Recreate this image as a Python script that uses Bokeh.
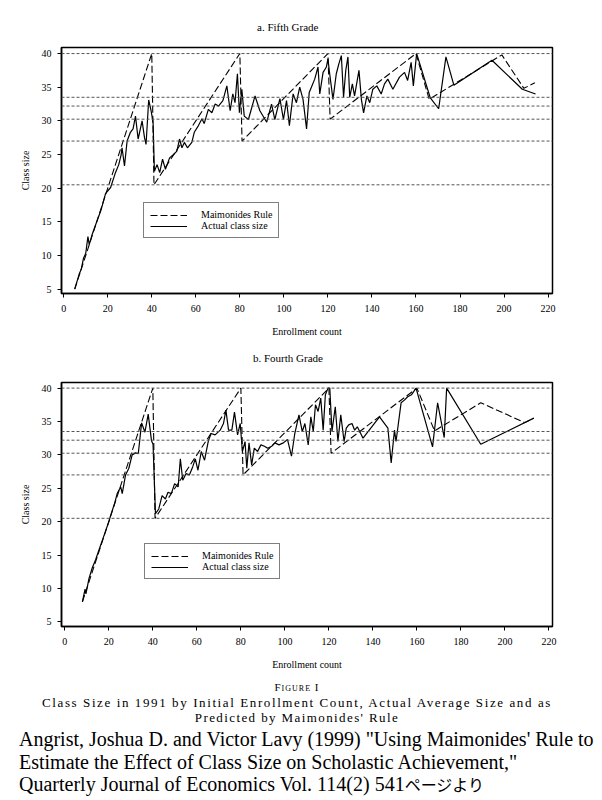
from bokeh.plotting import figure
from bokeh.models import Range1d, Span, Legend, LegendItem, Div
from bokeh.layouts import column
from bokeh.embed import file_html
from bokeh.resources import INLINE

# ---------------- data ----------------
x_ticks = [0, 20, 40, 60, 80, 100, 120, 140, 160, 180, 200, 220]
y_ticks = [5, 10, 15, 20, 25, 30, 35, 40]
ref_levels = [40, 33.5, 32.2, 30.25, 27, 20.5]

fifth_actual_x = [5, 7, 8, 9, 10, 11, 11.6, 13, 15, 17, 19, 21.3, 23.5, 25, 26.1, 26.5, 27.6, 28.8,
                  30.3, 31.5, 32.6, 33.8, 35.6, 36.7, 37.4, 38.6, 39.7, 40.6, 41.2, 42.4, 43.6, 44.9,
                  46.2, 48.1, 49.9, 51.4, 52.6, 53.7, 54.8, 56.2, 58.2, 59.3, 61.2, 62.8, 63.8, 65.7,
                  67.3, 68.8, 70.3, 72.3, 74.1, 75.6, 76.8, 77.8, 78.9, 79.8, 80.9, 82, 83.9, 86.9,
                  89.1, 92.2, 94.4, 95.9, 98.2, 99.8, 101.2, 102.5, 104.2, 105.7, 107.2, 108.7, 110.3,
                  111.5, 112.5, 114.0, 115.5, 116.3, 117.8, 119.3, 120.0, 120.8, 122.3, 123.8, 125.0,
                  126.1, 127.1, 128.1, 129.1, 129.9, 131.1, 132.1, 134.1, 135.2, 136.2, 137.7, 139.0,
                  140.4, 142.2, 144.2, 145.7, 147.2, 149.5, 152.5, 154.8, 156.2, 157.8, 158.8, 160.3,
                  166.5, 170.3, 173.6, 177.2, 194.5, 208.3, 214.3]
fifth_actual_y = [5, 7.2, 8, 9.6, 10.3, 12.8, 11.6, 13.2, 15, 16.8, 19.2, 20.1, 22.3, 23.5, 25, 26, 23.3, 27,
                  28.3, 28.8, 30.7, 27.3, 30, 27.5, 26.5, 33.1, 31.5, 29.7, 22.5, 23.5, 22.3, 24.3,
                  22.8, 24.5, 25, 25.5, 27.3, 26, 26.8, 26, 26.8, 28.3, 29.3, 30.3, 29.6, 31.7,
                  31.2, 32.5, 32.2, 33, 35.2, 31.5, 34, 32.7, 37, 31.2, 34.7, 30.7, 30.2, 33.7,
                  31.5, 29.8, 32.5, 30.2, 33.3, 30.2, 33.0, 29.3, 34.0, 32.7, 35.0, 33.2, 28.8,
                  34.2, 35.0, 36.2, 38.0, 34.0, 37.2, 38.0, 39.2, 37.0, 33.2, 37.0, 38.5,
                  39.7, 33.5, 37.5, 39.5, 33.5, 35.5, 33.7, 37.5, 33.2, 31.2, 33.7, 32.7,
                  34.7, 35.2, 34.0, 35.5, 36.2, 34.7, 36.5, 37.2, 36.0, 38.7, 35.2, 40.0,
                  33.4, 31.8, 39.5, 35.3, 39.0, 34.7, 34.0]
fifth_rule_x = [5, 40, 41, 80, 81, 120, 121, 160, 166, 199, 209, 214]
fifth_rule_y = [5, 40, 20.5, 40, 27, 40, 30.25, 40, 33.2, 39.8, 34.83, 35.67]

fourth_actual_x = [8, 9.2, 9.6, 11, 12.5, 14, 16, 18, 20.1, 20.8, 22.5, 23.8, 25.4, 26.1, 27.6, 29.1,
                   30.6, 32.1, 33.4, 34.9, 36.4, 37.9, 39.4, 40.1, 41.2, 42.7, 44.2, 45.7, 46.9, 48.4,
                   49.9, 51.5, 52.5, 53.6, 55.1, 56.6, 58.1, 59.3, 60.5, 62.0, 63.5, 65.3, 66.5, 68.3,
                   70.6, 72.1, 73.2, 74.4, 75.9, 77.1, 78.5, 79.7, 80.7, 81.9, 82.7, 83.7, 84.9, 86.1,
                   87.6, 89.1, 90.7, 92.2, 94.0, 95.5, 97.3, 99.3, 101.2, 103.0, 104.5, 106.4, 107.9,
                   109.1, 110.6, 111.8, 112.9, 113.9, 115.1, 116.3, 117.4, 118.4, 119.6, 120.4, 121.4,
                   122.9, 124.1, 125.4, 126.9, 127.9, 129.0, 130.5, 131.7, 132.9, 134.0, 135.5, 143.0,
                   146.8, 148.3, 149.8, 150.5, 152.8, 154.3, 155.8, 157.5, 159.6, 167.1, 169.4, 172.4,
                   173.5, 189.0, 213.1]
fourth_actual_y = [8, 9.9, 9.2, 11.5, 13.1, 14.3, 16.2, 18.1, 20.1, 20.9, 22.6, 24.2, 25.2, 24.2, 27.0, 28.0,
                   30.0, 30.3, 30.2, 34.8, 33.4, 36.1, 32.1, 31.6, 21.2, 21.9, 23.9, 23.4, 24.4, 24.2,
                   25.7, 25.2, 29.4, 26.2, 27.2, 27.0, 28.2, 29.4, 27.7, 30.5, 29.2, 32.2, 33.2, 33.0,
                   33.7, 34.7, 36.7, 33.7, 33.7, 36.4, 33.0, 34.7, 30.5, 32.0, 28.0, 31.8, 28.5, 31.0,
                   30.5, 31.5, 31.3, 31.0, 31.3, 31.8, 31.5, 31.8, 32.3, 29.8, 33.2, 36.0, 33.5,
                   34.7, 31.5, 35.7, 33.5, 37.5, 36.5, 38.5, 33.7, 39.0, 40.0, 40.0, 33.5,
                   37.2, 32.0, 36.0, 32.0, 34.0, 34.5, 34.7, 33.7, 34.2, 33.5, 32.5, 35.7,
                   34.0, 28.8, 33.7, 32.0, 37.8, 38.2, 38.7, 39.0, 40.0, 31.2, 37.8, 32.6,
                   40.0, 31.6, 35.5]
fourth_rule_x = [8, 40, 41, 80, 81, 120, 121, 160, 168, 189, 209, 213]
fourth_rule_y = [8, 40, 20.5, 40, 27, 40, 30.25, 40, 33.6, 37.8, 34.83, 35.5]

FONT = "Liberation Serif"


def title_div(text, height, pad_top, pad_left):
    return Div(width=594, height=height, margin=(0, 0, 0, 0), text=(
        f'<div style="height:{height}px;box-sizing:border-box;padding-top:{pad_top}px;'
        f'padding-left:{pad_left}px;font-family:\'{FONT}\',serif;font-size:11px;'
        f'line-height:14px;color:#000;white-space:nowrap;">{text}</div>'))


def make_panel(ax, ay, rx, ry, xr, yr, height, borders, legend_loc):
    left, right, top, bottom = borders
    p = figure(width=594, height=height, x_range=Range1d(*xr), y_range=Range1d(*yr),
               output_backend="svg", toolbar_location=None,
               min_border_left=left, min_border_right=right,
               min_border_top=top, min_border_bottom=bottom)

    p.xgrid.visible = False
    p.ygrid.visible = False
    p.outline_line_color = "black"
    p.outline_line_width = 1.5
    p.outline_line_alpha = 1.0
    p.background_fill_color = "white"
    p.border_fill_color = "white"

    for axis, ticks, lab in ((p.xaxis[0], x_ticks, "Enrollment count"), (p.yaxis[0], y_ticks, "Class size")):
        axis.ticker = ticks
        axis.major_tick_out = 4
        axis.major_tick_in = 0
        axis.minor_tick_out = 0
        axis.minor_tick_in = 0
        axis.axis_line_width = 1.5
        axis.axis_line_color = "black"
        axis.major_tick_line_color = "black"
        axis.major_label_text_font = FONT
        axis.major_label_text_font_size = "10px"
        axis.major_label_text_color = "black"
        axis.axis_label = lab
        axis.axis_label_text_font = FONT
        axis.axis_label_text_font_size = "10px"
        axis.axis_label_text_font_style = "normal"
        axis.axis_label_text_color = "black"
    p.xaxis.major_label_standoff = 7
    p.xaxis.axis_label_standoff = 11
    p.yaxis.major_label_standoff = 6
    p.yaxis.axis_label_standoff = 8

    for lv in ref_levels:
        p.add_layout(Span(location=lv, dimension="width", line_color="#555555",
                          line_dash="3 2", line_width=1))

    r_rule = p.line(rx, ry, line_color="black", line_dash="7 3", line_width=1.1)
    r_act = p.line(ax, ay, line_color="black", line_width=1.2)

    legend = Legend(items=[LegendItem(label="Maimonides Rule", renderers=[r_rule]),
                           LegendItem(label="Actual class size", renderers=[r_act])],
                    location=legend_loc)
    legend.border_line_color = "black"
    legend.border_line_width = 1
    legend.background_fill_color = "white"
    legend.background_fill_alpha = 1
    legend.label_text_font = FONT
    legend.label_text_font_size = "10px"
    legend.label_text_color = "black"
    legend.glyph_width = 37
    legend.glyph_height = 10
    legend.label_height = 10
    legend.label_standoff = 14
    legend.padding = 6
    legend.spacing = 0
    legend.margin = 0
    p.add_layout(legend)
    return p


t1 = title_div("a. Fifth Grade", 40, 20, 257)
p1 = make_panel(fifth_actual_x, fifth_actual_y, fifth_rule_x, fifth_rule_y,
                (-1, 222), (4.35, 40.9), 303, (61, 41, 7, 50), (82, 55))
t2 = title_div("b. Fourth Grade", 32, 8, 253)
p2 = make_panel(fourth_actual_x, fourth_actual_y, fourth_rule_x, fourth_rule_y,
                (-1.5, 221.6), (4.3, 40.84), 305, (59, 42, 7, 54), (83, 47))

caption = Div(width=594, height=118, margin=(0, 0, 0, 0), text="""
<div style="width:594px;color:#000;font-family:'Liberation Serif','Noto Sans CJK JP',serif;">
  <div style="text-align:center;font-size:11px;line-height:15px;font-variant:small-caps;letter-spacing:1px;">Figure I</div>
  <div style="text-align:center;font-size:13px;line-height:15px;letter-spacing:1.6px;">Class Size in 1991 by Initial Enrollment Count, Actual Average Size and as</div>
  <div style="text-align:center;font-size:13px;line-height:15px;letter-spacing:1.4px;">Predicted by Maimonides' Rule</div>
  <div style="margin-top:3px;padding-left:19px;font-size:20px;line-height:22.5px;white-space:nowrap;">Angrist, Joshua D. and Victor Lavy (1999) "Using Maimonides' Rule to<br>Estimate the Effect of Class Size on Scholastic Achievement,"<br>Quarterly Journal of Economics Vol. 114(2) 541<span style="font-family:'Noto Sans CJK JP',sans-serif;font-size:16px;">ページより</span></div>
</div>
""")

layout = column(t1, p1, t2, p2, caption)
open("out.html", "w").write(file_html(layout, INLINE))
